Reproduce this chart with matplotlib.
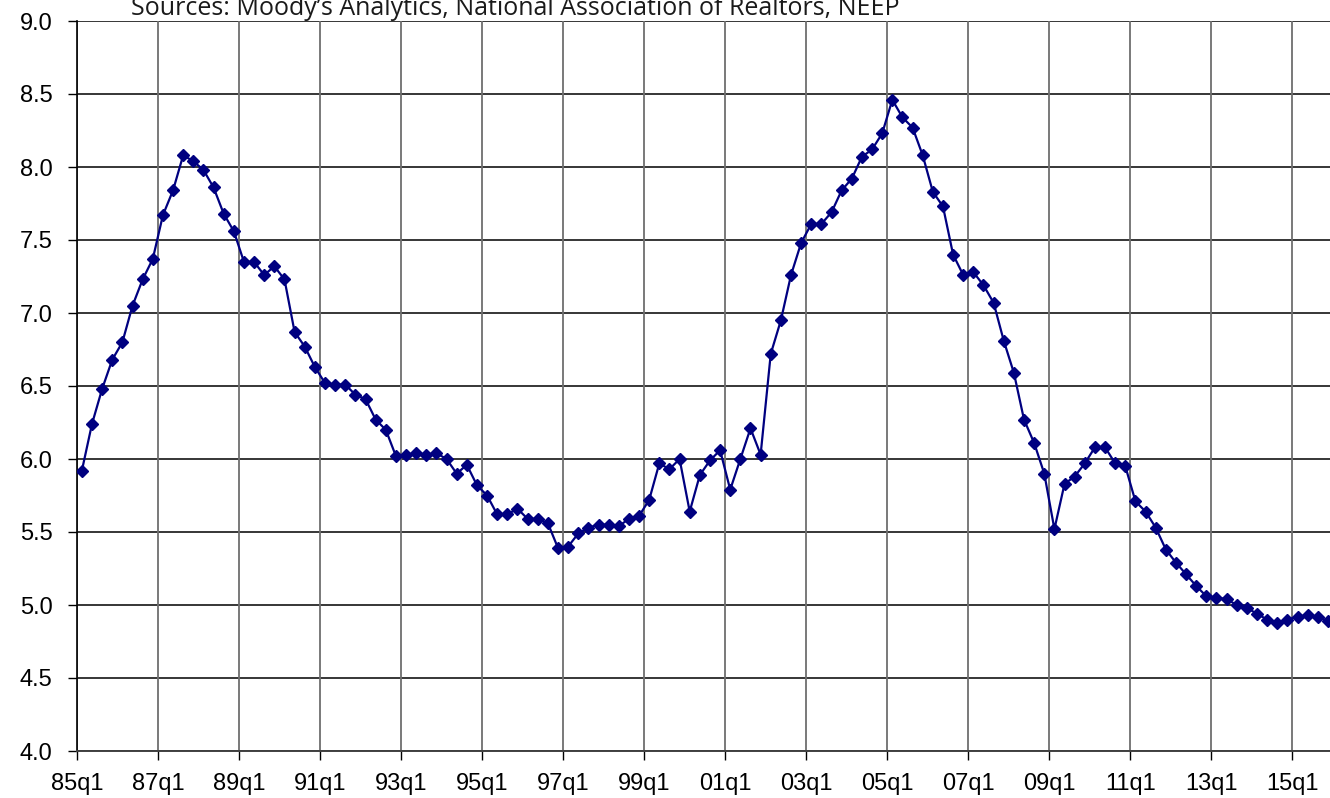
import matplotlib
matplotlib.use("Agg")
import matplotlib.pyplot as plt

# quarterly series, 85q1 .. 15q4
values = [
    5.92, 6.24, 6.48, 6.68, 6.80, 7.05, 7.23, 7.37, 7.67, 7.84,
    8.08, 8.04, 7.98, 7.86, 7.68, 7.56, 7.35, 7.35, 7.26, 7.32,
    7.23, 6.87, 6.77, 6.63, 6.52, 6.51, 6.51, 6.44, 6.41, 6.27,
    6.20, 6.02, 6.03, 6.04, 6.03, 6.04, 6.00, 5.90, 5.96, 5.82,
    5.75, 5.62, 5.62, 5.66, 5.59, 5.59, 5.56, 5.39, 5.40, 5.49,
    5.53, 5.55, 5.55, 5.54, 5.59, 5.61, 5.72, 5.97, 5.93, 6.00,
    5.64, 5.89, 5.99, 6.06, 5.79, 6.00, 6.21, 6.03, 6.72, 6.95,
    7.26, 7.48, 7.61, 7.61, 7.69, 7.84, 7.92, 8.07, 8.12, 8.23,
    8.46, 8.34, 8.27, 8.08, 7.83, 7.73, 7.40, 7.26, 7.28, 7.19,
    7.07, 6.81, 6.59, 6.27, 6.11, 5.90, 5.52, 5.83, 5.88, 5.97,
    6.08, 6.08, 5.97, 5.95, 5.71, 5.64, 5.53, 5.38, 5.29, 5.21,
    5.13, 5.06, 5.05, 5.04, 5.00, 4.98, 4.94, 4.90, 4.88, 4.90,
    4.92, 4.93, 4.92, 4.89,
]
tick_labels = ["85q1", "87q1", "89q1", "91q1", "93q1", "95q1", "97q1", "99q1",
               "01q1", "03q1", "05q1", "07q1", "09q1", "11q1", "13q1", "15q1"]
y_ticks = [4.0, 4.5, 5.0, 5.5, 6.0, 6.5, 7.0, 7.5, 8.0, 8.5, 9.0]
source_text = "Sources: Moody\u2019s Analytics, National Association of Realtors, NEEP"

W, H = 1330, 798
fig = plt.figure(figsize=(W / 100, H / 100), dpi=100)
ax = fig.add_axes([76.8 / W, 1 - 751 / H, (1333 - 76.8) / W, (751 - 21) / H])

x = list(range(len(values)))
ax.plot(x, values, color="#000080", lw=1.6, marker="D", ms=5.8,
        mfc="#000080", mec="#000080", zorder=3)

ax.set_xlim(-0.5, len(values) - 0.5)
ax.set_ylim(4.0, 9.0)
ax.set_xticks([-0.5 + 8 * k for k in range(len(tick_labels))])
ax.set_xticklabels(tick_labels)
ax.set_yticks(y_ticks)
ax.set_yticklabels(["%.1f" % v for v in y_ticks])

for lab in ax.get_xticklabels() + ax.get_yticklabels():
    lab.set_family("Liberation Sans")
    lab.set_fontsize(17)
ax.tick_params(axis="both", direction="out", length=6.5, width=1, color="black")
ax.tick_params(axis="y", pad=11)
ax.tick_params(axis="x", pad=9)

for yv in y_ticks:
    ax.axhline(yv, color="black", lw=1.1, zorder=1)
for xv in ax.get_xticks():
    ax.axvline(xv, color="#6e6e6e", lw=1.3, zorder=1)

for s in ["top", "right"]:
    ax.spines[s].set_visible(False)
ax.spines["left"].set_linewidth(1.2)
ax.spines["bottom"].set_linewidth(1.4)
ax.spines["bottom"].set_color("#404040")

fig.text(131 / W, 1 - 15 / H, source_text, family="Open Sans", fontsize=18,
         ha="left", va="baseline", color="#1a1a1a")

fig.savefig("out.png", dpi=100)
